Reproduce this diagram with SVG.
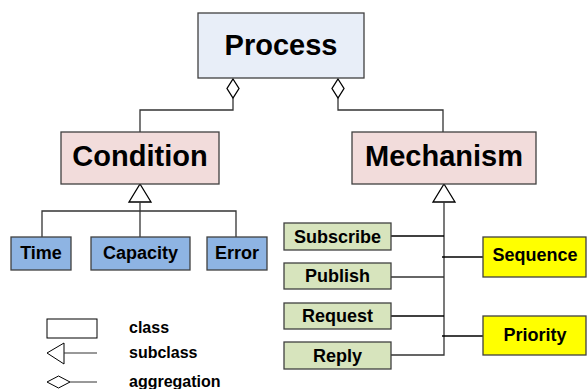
<svg xmlns="http://www.w3.org/2000/svg" width="587" height="389" viewBox="0 0 587 389">
<style>
  .box{stroke:#404040;stroke-width:1.3}
  .t{font-family:"Liberation Sans",Arial,sans-serif;font-weight:bold;fill:#000;text-anchor:middle}
  .big{font-size:29px}
  .sm{font-size:18px}
  .lg{font-size:16px;text-anchor:start}
  .ln{stroke:#333;stroke-width:1.3;fill:none}
  .dk{stroke:#000;stroke-width:1.3;fill:none}
  .hd{fill:#fff;stroke:#000;stroke-width:1.3}
</style>
<rect width="587" height="389" fill="#fff"/>
<g id="connectors">
  <polygon class="hd" points="233,79 239,88.5 233,98 227,88.5"/>
  <polyline class="ln" points="233,98 233,110 140,110 140,132"/>
  <polygon class="hd" points="338,79 344,88.5 338,98 332,88.5"/>
  <polyline class="ln" points="338,98 338,110 443,110 443,132"/>
  <polygon class="hd" points="140,184 151,202 129,202"/>
  <polyline class="ln" points="140,202 140,237"/>
  <polyline class="ln" points="42,237 42,211 236,211 236,237"/>
  <polygon class="hd" points="444,184 455,202 433,202"/>
  <polyline class="ln" points="444,202 444,355 391,355"/>
  <line class="dk" x1="391" y1="236" x2="444" y2="236"/>
  <line class="ln" x1="391" y1="277" x2="444" y2="277"/>
  <line class="dk" x1="391" y1="316" x2="444" y2="316"/>
  <line class="dk" x1="442" y1="257" x2="483" y2="257"/>
  <line class="dk" x1="442" y1="336" x2="483" y2="336"/>
</g>
<g id="process">
  <rect class="box" x="198" y="13" width="166" height="65" fill="#e8eef8"/>
  <text class="t big" x="281" y="55">Process</text>
</g>
<g id="condition">
  <rect class="box" x="61" y="132" width="158" height="52" fill="#f2dcdb"/>
  <text class="t big" x="140" y="166">Condition</text>
</g>
<g id="mechanism">
  <rect class="box" x="352" y="132" width="184" height="52" fill="#f2dcdb"/>
  <text class="t big" x="444" y="166">Mechanism</text>
</g>
<g id="time">
  <rect class="box" x="11" y="237" width="60" height="33" fill="#8eb4e3"/>
  <text class="t sm" x="41" y="259">Time</text>
</g>
<g id="capacity">
  <rect class="box" x="91" y="237" width="99" height="33" fill="#8eb4e3"/>
  <text class="t sm" x="140.5" y="259">Capacity</text>
</g>
<g id="error">
  <rect class="box" x="207" y="237" width="60" height="33" fill="#8eb4e3"/>
  <text class="t sm" x="237" y="259">Error</text>
</g>
<g id="subscribe">
  <rect class="box" x="284" y="223" width="107" height="27" fill="#d7e4bd"/>
  <text class="t sm" x="337.5" y="243">Subscribe</text>
</g>
<g id="publish">
  <rect class="box" x="284" y="263" width="107" height="26" fill="#d7e4bd"/>
  <text class="t sm" x="337.5" y="282">Publish</text>
</g>
<g id="request">
  <rect class="box" x="284" y="303" width="107" height="26" fill="#d7e4bd"/>
  <text class="t sm" x="337.5" y="322">Request</text>
</g>
<g id="reply">
  <rect class="box" x="284" y="342" width="107" height="27" fill="#d7e4bd"/>
  <text class="t sm" x="337.5" y="362">Reply</text>
</g>
<g id="sequence">
  <rect class="box" x="483" y="237" width="103" height="40" fill="#ffff00"/>
  <text class="t sm" x="535" y="261">Sequence</text>
</g>
<g id="priority">
  <rect class="box" x="483" y="316" width="103" height="39" fill="#ffff00"/>
  <text class="t sm" x="535" y="341">Priority</text>
</g>
<g id="legend">
  <rect x="47" y="319" width="50" height="19" fill="#fff" stroke="#000" stroke-width="1"/>
  <text class="t lg" x="129" y="333">class</text>
  <polygon points="47,353 64,343 64,364" fill="#fff" stroke="#000" stroke-width="1"/>
  <line x1="64" y1="353" x2="97" y2="353" stroke="#333" stroke-width="1"/>
  <text class="t lg" x="129" y="358">subclass</text>
  <polygon points="47,382 58.5,376 70,382 58.5,388" fill="#fff" stroke="#000" stroke-width="1"/>
  <line x1="70" y1="382" x2="97" y2="382" stroke="#333" stroke-width="1"/>
  <text class="t lg" x="129" y="387">aggregation</text>
</g>
</svg>
